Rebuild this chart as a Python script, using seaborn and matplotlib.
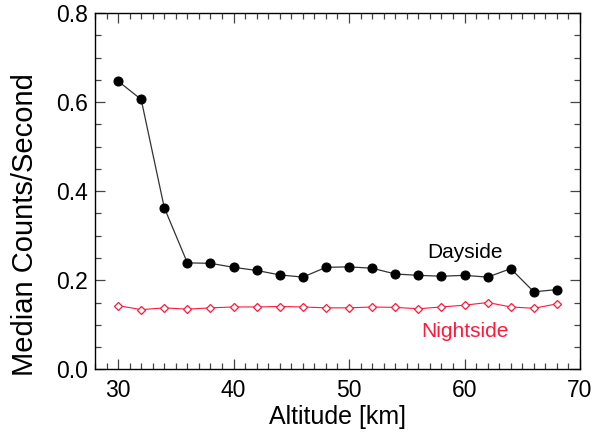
import matplotlib
matplotlib.use("Agg")
import matplotlib.pyplot as plt
import numpy as np
import pandas as pd
import seaborn as sns
from matplotlib.ticker import FormatStrFormatter, MultipleLocator

altitude = [30, 32, 34, 36, 38, 40, 42, 44, 46, 48, 50, 52, 54, 56, 58, 60, 62, 64, 66, 68]
dayside = [0.647, 0.606, 0.363, 0.239, 0.238, 0.229, 0.222, 0.212, 0.207, 0.229,
           0.230, 0.227, 0.214, 0.211, 0.209, 0.211, 0.207, 0.226, 0.174, 0.179]
nightside = [0.143, 0.134, 0.138, 0.135, 0.138, 0.140, 0.140, 0.141, 0.140, 0.138,
             0.138, 0.140, 0.139, 0.136, 0.140, 0.144, 0.150, 0.140, 0.137, 0.147]

RED = "#ff1a3c"

df = pd.DataFrame({"altitude": altitude, "dayside": dayside, "nightside": nightside})

sns.set_theme(style="ticks")
plt.rcParams["font.family"] = ["Liberation Sans", "DejaVu Sans"]
plt.rcParams["text.color"] = "black"
plt.rcParams["axes.labelcolor"] = "black"
plt.rcParams["xtick.labelcolor"] = "black"
plt.rcParams["ytick.labelcolor"] = "black"

fig = plt.figure(figsize=(6, 4.32), dpi=100)
ax = fig.add_axes([0.1583, 0.1451, 0.8084, 0.8248])

sns.lineplot(data=df, x="altitude", y="dayside", ax=ax, color="#333333", linewidth=0.9,
             marker="o", markersize=6.5, markerfacecolor="black", markeredgecolor="black")
sns.lineplot(data=df, x="altitude", y="nightside", ax=ax, color=RED, linewidth=0.8,
             marker="D", markersize=4.5, markerfacecolor="white", markeredgecolor=RED,
             markeredgewidth=0.9)

ax.text(60.0, 0.251, "Dayside", fontsize=15, color="black", ha="center", va="baseline")
ax.text(60.0, 0.072, "Nightside", fontsize=15, color=RED, ha="center", va="baseline")

ax.set_xlim(28, 70)
ax.set_ylim(0, 0.8)
ax.xaxis.set_major_locator(MultipleLocator(10))
ax.xaxis.set_minor_locator(MultipleLocator(1))
ax.yaxis.set_major_locator(MultipleLocator(0.2))
ax.yaxis.set_minor_locator(MultipleLocator(0.05))
ax.yaxis.set_major_formatter(FormatStrFormatter("%.1f"))
ax.tick_params(which="both", direction="in", top=True, right=True, color="#444444", width=0.9)
ax.tick_params(which="major", length=7, labelsize=16.5)
ax.tick_params(axis="x", which="major", pad=7)
ax.tick_params(axis="y", which="major", pad=5)
ax.tick_params(which="minor", length=4)
for spine in ax.spines.values():
    spine.set_visible(True)
    spine.set_linewidth(1.0)
    spine.set_color("black")

ax.set_xlabel("Altitude [km]", fontsize=18)
ax.set_ylabel("Median Counts/Second", fontsize=21)
ax.xaxis.set_label_coords(0.5, -0.101)
ax.yaxis.set_label_coords(-0.115, 0.405)

fig.savefig("out.png", dpi=100)
